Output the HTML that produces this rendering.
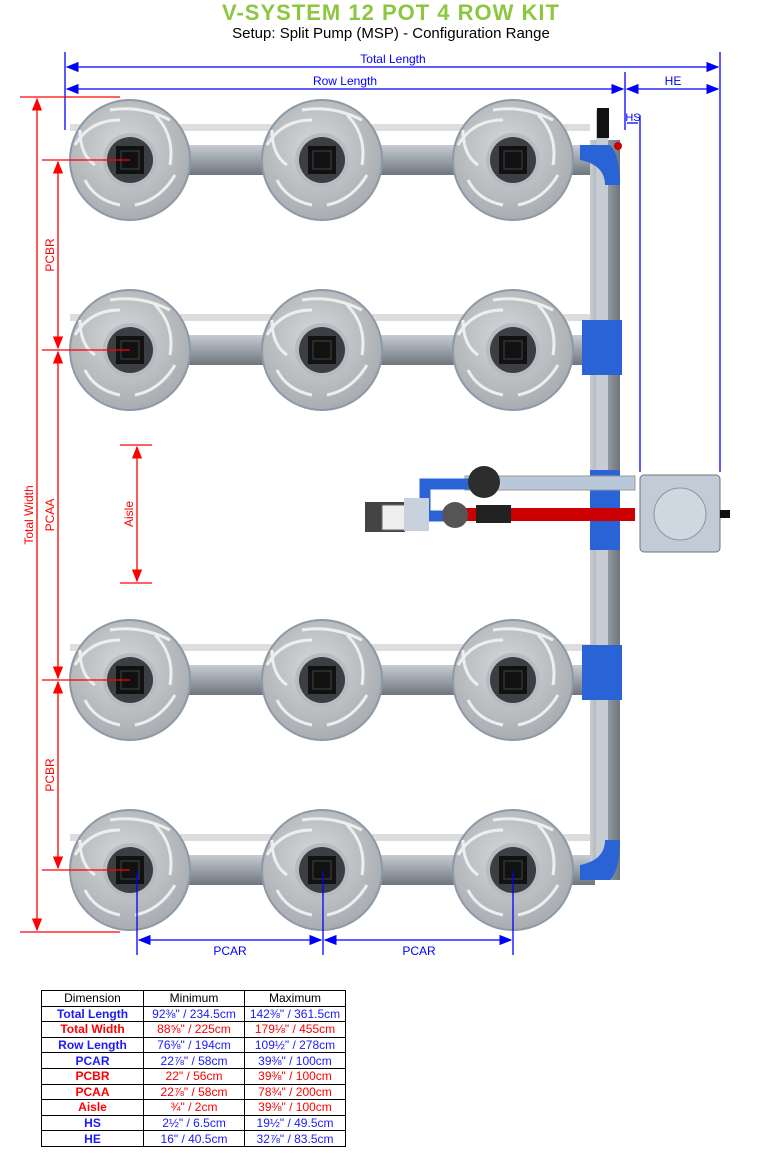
<!DOCTYPE html>
<html><head><meta charset="utf-8"><style>
body{margin:0;background:#fff;width:782px;height:1163px;position:relative;font-family:"Liberation Sans",sans-serif;overflow:hidden}
.t1{position:absolute;left:0;width:782px;top:0;text-align:center;font-size:22px;color:#8dc63f;letter-spacing:1px;font-weight:bold}
.t2{position:absolute;left:0;width:782px;top:25px;text-align:center;font-size:15px;color:#000}
table{position:absolute;left:41px;top:990px;border-collapse:collapse;font-size:12px}
td{border:1px solid #000;height:14.6px;padding:0;text-align:center;line-height:14px}
.b{color:#1a1aff}.r{color:#f00}.h{font-weight:bold}
</style></head><body>
<div class="t1">V-SYSTEM 12 POT 4 ROW KIT</div>
<div class="t2">Setup: Split Pump (MSP) - Configuration Range</div>
<svg width="782" height="1163" style="position:absolute;left:0;top:0">
<defs>
<marker id="ab" markerWidth="10" markerHeight="8" refX="9" refY="4" orient="auto-start-reverse"><path d="M0,0L10,4L0,8z" fill="#0000ff"/></marker>
<marker id="ar" markerWidth="10" markerHeight="8" refX="9" refY="4" orient="auto-start-reverse"><path d="M0,0L10,4L0,8z" fill="#f00"/></marker>
<linearGradient id="pipe" x1="0" y1="0" x2="0" y2="1"><stop offset="0" stop-color="#c8ccd2"/><stop offset=".5" stop-color="#9aa1a9"/><stop offset="1" stop-color="#6e757d"/></linearGradient>
<linearGradient id="vp" x1="0" y1="0" x2="1" y2="0"><stop offset="0" stop-color="#c8ccd2"/><stop offset=".5" stop-color="#9aa1a9"/><stop offset="1" stop-color="#6e757d"/></linearGradient>
<radialGradient id="pot" cx=".45" cy=".4" r=".6"><stop offset="0" stop-color="#d6d8da"/><stop offset="1" stop-color="#a9adb1"/></radialGradient>
<g id="p">
<circle r="60" fill="url(#pot)" stroke="#8d99a6" stroke-width="2"/>
<path d="M-10,-40 Q-40,-40 -55,-15 M25,-45 Q45,-25 40,5 M45,15 Q30,40 5,45 M-10,45 Q-35,40 -45,20 M-50,-30 Q-50,-5 -35,5 M40,-40 Q10,-55 -20,-50" stroke="#eee" stroke-width="3" fill="none"/>
<circle r="27" fill="#b8bcc0"/>
<circle r="23" fill="#3b3e42"/>
<rect x="-14" y="-14" width="28" height="28" fill="#111"/>
<rect x="-9" y="-9" width="18" height="18" fill="none" stroke="#444"/>
</g>
</defs>
<g>
<rect x="185" y="145" width="85" height="30" fill="url(#pipe)"/><rect x="375" y="145" width="85" height="30" fill="url(#pipe)"/><rect x="565" y="145" width="30" height="30" fill="url(#pipe)"/>
<rect x="185" y="335" width="85" height="30" fill="url(#pipe)"/><rect x="375" y="335" width="85" height="30" fill="url(#pipe)"/><rect x="565" y="335" width="30" height="30" fill="url(#pipe)"/>
<rect x="185" y="665" width="85" height="30" fill="url(#pipe)"/><rect x="375" y="665" width="85" height="30" fill="url(#pipe)"/><rect x="565" y="665" width="30" height="30" fill="url(#pipe)"/>
<rect x="185" y="855" width="85" height="30" fill="url(#pipe)"/><rect x="375" y="855" width="85" height="30" fill="url(#pipe)"/><rect x="565" y="855" width="30" height="30" fill="url(#pipe)"/>
<g fill="#ddd"><rect x="70" y="124" width="520" height="7"/><rect x="70" y="314" width="520" height="7"/><rect x="70" y="644" width="520" height="7"/><rect x="70" y="834" width="520" height="7"/></g>
</g>
<rect x="590" y="140" width="30" height="740" fill="url(#vp)"/>
<rect x="596" y="110" width="12" height="770" fill="#c5ccd4"/>
<rect x="597" y="108" width="12" height="30" fill="#111"/>
<g fill="#2a63d6"><path d="M580,145 h30 q10,10 10,40 h-15 q0,-20 -25,-25z"/><rect x="582" y="320" width="40" height="55"/><rect x="590" y="470" width="30" height="80"/><rect x="582" y="645" width="40" height="55"/><path d="M580,880 h30 q10,-10 10,-40 h-15 q0,20 -25,25z"/></g>
<circle cx="618" cy="146" r="4" fill="#c00"/>
<rect x="465" y="476" width="170" height="14" fill="#b8c8d8" stroke="#999"/>
<rect x="450" y="508" width="185" height="13" fill="#c00"/>
<path d="M470,484 h-45 v32 h20" stroke="#2a63d6" stroke-width="11" fill="none"/>
<circle cx="484" cy="482" r="16" fill="#2d2d2d"/>
<circle cx="455" cy="515" r="13" fill="#555"/>
<rect x="365" y="502" width="40" height="30" fill="#444"/><rect x="382" y="505" width="26" height="25" fill="#eee" stroke="#666"/>
<rect x="404" y="498" width="25" height="33" fill="#c9d2dc"/>
<rect x="476" y="505" width="35" height="18" fill="#222"/>
<rect x="640" y="475" width="80" height="77" rx="4" fill="#c3ccd6" stroke="#6b7682"/>
<circle cx="680" cy="514" r="26" fill="#cfd8e0" stroke="#8a95a0"/>
<rect x="720" y="510" width="10" height="8" fill="#111"/>
<use href="#p" x="130" y="160"/><use href="#p" x="322" y="160"/><use href="#p" x="513" y="160"/>
<use href="#p" x="130" y="350"/><use href="#p" x="322" y="350"/><use href="#p" x="513" y="350"/>
<use href="#p" x="130" y="680"/><use href="#p" x="322" y="680"/><use href="#p" x="513" y="680"/>
<use href="#p" x="130" y="870"/><use href="#p" x="322" y="870"/><use href="#p" x="513" y="870"/>
<g stroke="#0000ff" stroke-width="1.3" fill="none">
<line x1="65" y1="52" x2="65" y2="130"/><line x1="720" y1="52" x2="720" y2="472"/><line x1="625" y1="72" x2="625" y2="130"/><line x1="640" y1="115" x2="640" y2="472"/>
<line x1="67" y1="67" x2="718" y2="67" marker-start="url(#ab)" marker-end="url(#ab)"/>
<line x1="67" y1="89" x2="623" y2="89" marker-start="url(#ab)" marker-end="url(#ab)"/>
<line x1="627" y1="89" x2="718" y2="89" marker-start="url(#ab)" marker-end="url(#ab)"/>
<line x1="627" y1="123" x2="638" y2="123"/>
<line x1="137" y1="872" x2="137" y2="955"/><line x1="323" y1="872" x2="323" y2="955"/><line x1="513" y1="872" x2="513" y2="955"/>
<line x1="139" y1="940" x2="321" y2="940" marker-start="url(#ab)" marker-end="url(#ab)"/>
<line x1="325" y1="940" x2="511" y2="940" marker-start="url(#ab)" marker-end="url(#ab)"/>
</g>
<g fill="#0000ff" font-size="12" text-anchor="middle">
<text x="393" y="63">Total Length</text><text x="345" y="85">Row Length</text><text x="673" y="85">HE</text><text x="633" y="121" font-size="11">HS</text>
<text x="230" y="955">PCAR</text><text x="419" y="955">PCAR</text>
</g>
<g stroke="#f00" stroke-width="1.3" fill="none">
<line x1="20" y1="97" x2="120" y2="97"/><line x1="20" y1="932" x2="120" y2="932"/>
<line x1="37" y1="99" x2="37" y2="930" marker-start="url(#ar)" marker-end="url(#ar)"/>
<line x1="42" y1="160" x2="130" y2="160"/><line x1="42" y1="350" x2="130" y2="350"/><line x1="42" y1="680" x2="130" y2="680"/><line x1="42" y1="870" x2="130" y2="870"/>
<line x1="58" y1="162" x2="58" y2="348" marker-start="url(#ar)" marker-end="url(#ar)"/>
<line x1="58" y1="352" x2="58" y2="678" marker-start="url(#ar)" marker-end="url(#ar)"/>
<line x1="58" y1="682" x2="58" y2="868" marker-start="url(#ar)" marker-end="url(#ar)"/>
<line x1="120" y1="445" x2="152" y2="445"/><line x1="120" y1="583" x2="152" y2="583"/>
<line x1="137" y1="447" x2="137" y2="581" marker-start="url(#ar)" marker-end="url(#ar)"/>
</g>
<g fill="#f00" font-size="12" text-anchor="middle">
<text transform="translate(33,515) rotate(-90)">Total Width</text>
<text transform="translate(54,255) rotate(-90)">PCBR</text>
<text transform="translate(54,515) rotate(-90)">PCAA</text>
<text transform="translate(54,775) rotate(-90)">PCBR</text>
<text transform="translate(133,514) rotate(-90)">Aisle</text>
</g>
</svg>
<table>
<tr><td style="width:101px">Dimension</td><td style="width:100px">Minimum</td><td style="width:100px">Maximum</td></tr>
<tr class="b"><td class="h">Total Length</td><td>92⅜" / 234.5cm</td><td>142⅜" / 361.5cm</td></tr>
<tr class="r"><td class="h">Total Width</td><td>88⅝" / 225cm</td><td>179⅛" / 455cm</td></tr>
<tr class="b"><td class="h">Row Length</td><td>76⅜" / 194cm</td><td>109½" / 278cm</td></tr>
<tr class="b"><td class="h">PCAR</td><td>22⅞" / 58cm</td><td>39⅜" / 100cm</td></tr>
<tr class="r"><td class="h">PCBR</td><td>22" / 56cm</td><td>39⅜" / 100cm</td></tr>
<tr class="r"><td class="h">PCAA</td><td>22⅞" / 58cm</td><td>78¾" / 200cm</td></tr>
<tr class="r"><td class="h">Aisle</td><td>¾" / 2cm</td><td>39⅜" / 100cm</td></tr>
<tr class="b"><td class="h">HS</td><td>2½" / 6.5cm</td><td>19½" / 49.5cm</td></tr>
<tr class="b"><td class="h">HE</td><td>16" / 40.5cm</td><td>32⅞" / 83.5cm</td></tr>
</table>
</body></html>
